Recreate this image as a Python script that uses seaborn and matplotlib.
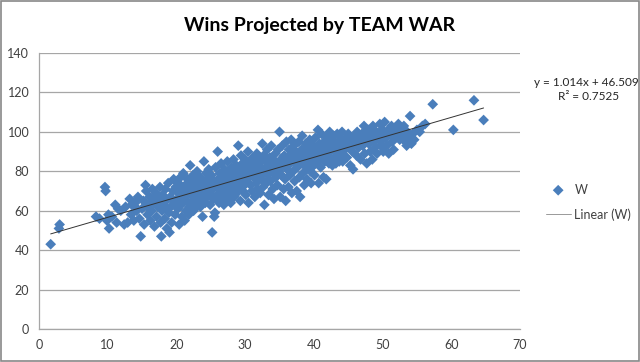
import matplotlib
matplotlib.use("Agg")
import matplotlib.pyplot as plt
import seaborn as sns
import numpy as np
import pandas as pd

# ---- data ----
war_a = [1.7, 2.9, 3.0, 8.3, 8.8, 9.6, 9.7, 9.9, 10.1, 10.2, 10.6, 11.1, 11.3, 11.5, 11.9]
wins_a = [43, 51, 53, 57, 56, 72, 70, 55, 58, 51, 57, 63, 54, 61, 60]

war_b = [12.4, 12.6, 12.9, 13.2, 13.4, 13.5, 13.8, 14.0, 14.2, 14.4, 14.6, 14.8, 15.0, 15.2, 15.3,
         15.5, 15.6, 15.8, 15.9, 16.1, 16.2, 16.4, 16.5, 16.7, 16.8, 17.0, 17.1, 17.3, 17.4, 17.6,
         17.7, 17.8, 17.9, 18.0, 18.1, 18.3, 18.4, 18.5, 18.6, 18.8, 18.9, 19.0, 19.1, 19.2, 19.3,
         19.5, 19.6, 19.7, 19.8, 19.9]
wins_b = [53, 62, 54, 66, 58, 63, 55, 64, 60, 67, 56, 47, 61, 65, 53,
          73, 70, 58, 63, 67, 55, 60, 71, 64, 52, 69, 57, 62, 66, 72,
          54, 47, 60, 68, 63, 56, 71, 65, 51, 74, 59, 49, 67, 62, 54,
          70, 76, 64, 58, 72]

war_c = [20.1, 20.2, 20.3, 20.4, 20.5, 20.6, 20.7, 20.8, 20.9, 21.0, 21.1, 21.2, 21.3, 21.4, 21.5,
         21.6, 21.7, 21.8, 21.9, 22.0, 22.1, 22.2, 22.3, 22.4, 22.5, 22.6, 22.7, 22.8, 22.9, 23.0,
         23.1, 23.2, 23.3, 23.4, 23.5, 23.6, 23.7, 23.8, 23.9, 24.0, 24.1, 24.2, 24.3, 24.4, 24.5,
         24.6, 24.7, 24.8, 24.9, 25.0, 25.1, 25.2, 25.3, 25.4, 25.5, 25.6, 25.7, 25.8, 25.9, 26.0,
         26.1, 26.2, 26.3, 26.4, 26.5, 26.6, 26.7, 26.8, 26.9, 27.0, 27.1, 27.2, 27.3, 27.4, 27.5,
         27.6, 27.7, 27.8, 27.9, 28.0]
wins_c = [66, 61, 74, 53, 69, 77, 63, 57, 71, 79, 67, 55, 73, 60, 65,
          76, 70, 58, 62, 83, 68, 74, 64, 78, 60, 71, 66, 75, 62, 80,
          69, 73, 65, 77, 62, 71, 67, 57, 75, 85, 70, 64, 79, 73, 67,
          76, 81, 69, 63, 74, 78, 49, 71, 66, 57, 59, 82, 73, 68, 90,
          76, 64, 79, 71, 84, 67, 74, 78, 63, 81, 70, 76, 66, 85, 73,
          79, 68, 75, 64, 82]

war_d = [28.1, 28.2, 28.3, 28.4, 28.5, 28.6, 28.7, 28.8, 28.9, 29.0, 29.1, 29.2, 29.3, 29.4, 29.5,
         29.6, 29.7, 29.8, 29.9, 30.0, 30.1, 30.2, 30.3, 30.4, 30.5, 30.6, 30.7, 30.8, 30.9, 31.0,
         31.1, 31.2, 31.3, 31.4, 31.5, 31.6, 31.7, 31.8, 31.9, 32.0, 32.1, 32.2, 32.3, 32.4, 32.5,
         32.6, 32.7, 32.8, 32.9, 33.0, 33.1, 33.2, 33.3, 33.4, 33.5, 33.6, 33.7, 33.8, 33.9, 34.0,
         34.1, 34.2, 34.3, 34.4, 34.5, 34.6, 34.7, 34.8, 34.9, 35.0, 35.1, 35.2, 35.3, 35.4, 35.5,
         35.6, 35.7, 35.8, 35.9, 36.0]
wins_d = [71, 77, 86, 67, 80, 74, 83, 69, 77, 93, 72, 81, 65, 88, 76,
          84, 70, 79, 73, 86, 68, 82, 76, 90, 64, 79, 85, 73, 81, 70,
          87, 77, 83, 67, 80, 74, 89, 71, 84, 78, 86, 69, 82, 76, 94,
          72, 88, 63, 80, 85, 74, 91, 78, 68, 83, 87, 75, 93, 80, 71,
          86, 66, 82, 89, 77, 84, 73, 91, 80, 100, 67, 86, 78, 93, 83,
          71, 88, 76, 65, 95]

war_e = [36.1, 36.2, 36.3, 36.4, 36.5, 36.6, 36.7, 36.8, 36.9, 37.0, 37.1, 37.2, 37.3, 37.4, 37.5,
         37.6, 37.7, 37.8, 37.9, 38.0, 38.1, 38.2, 38.3, 38.4, 38.5, 38.6, 38.7, 38.8, 38.9, 39.0,
         39.1, 39.2, 39.3, 39.4, 39.5, 39.6, 39.7, 39.8, 39.9, 40.0, 40.1, 40.2, 40.3, 40.4, 40.5,
         40.6, 40.7, 40.8, 40.9, 41.0, 41.1, 41.2, 41.3, 41.4, 41.5, 41.6, 41.7, 41.8, 41.9, 42.0,
         42.1, 42.2, 42.3, 42.4, 42.5, 42.6, 42.7, 42.8, 42.9, 43.0, 43.1, 43.2, 43.3, 43.4, 43.5,
         43.6, 43.7, 43.8, 43.9, 44.0]
wins_e = [81, 86, 72, 91, 78, 84, 96, 69, 88, 80, 93, 75, 85, 90, 70,
          82, 87, 95, 77, 67, 84, 91, 98, 79, 86, 73, 89, 94, 82, 76,
          88, 92, 84, 96, 80, 74, 90, 86, 93, 83, 78, 97, 88, 91, 85,
          101, 74, 94, 89, 82, 99, 87, 92, 77, 95, 85, 90, 76, 97, 88,
          93, 84, 100, 90, 86, 96, 83, 92, 98, 87, 94, 84, 90, 99, 88,
          95, 85, 92, 97, 89]

war_f = [44.1, 44.2, 44.4, 44.5, 44.7, 44.8, 45.0, 45.1, 45.3, 45.4, 45.6, 45.7, 45.9, 46.0, 46.2,
         46.3, 46.5, 46.6, 46.8, 47.0, 47.1, 47.3, 47.4, 47.6, 47.7, 47.9, 48.0, 48.2, 48.3, 48.5,
         48.6, 48.8, 48.9, 49.1, 49.2, 49.4, 49.6, 49.7, 49.9, 50.0, 50.1, 50.3, 50.4, 50.6, 50.8,
         50.9, 51.1, 51.3, 51.4, 51.6, 51.8, 51.9]
wins_f = [100, 85, 94, 91, 97, 87, 99, 93, 83, 96, 90, 81, 98, 94, 88,
          100, 92, 96, 86, 99, 93, 103, 89, 97, 84, 101, 94, 90, 98, 86,
          103, 95, 92, 100, 89, 97, 104, 93, 101, 96, 90, 105, 98, 93, 101,
          89, 99, 103, 95, 91, 102, 97]

war_g = [52.1, 52.3, 52.5, 52.7, 52.9, 53.1, 53.3, 53.5, 53.6, 53.8, 54.0, 54.2, 54.4, 54.6, 55.0,
         55.4, 55.8, 56.2, 57.3, 60.3, 63.3, 64.7]
wins_g = [100, 104, 96, 102, 98, 103, 95, 93, 100, 97, 108, 94, 99, 96, 101,
          100, 103, 104, 114, 101, 116, 106]

# dense core of the cloud, close to the trend line
war_h = [14.3, 15.7, 16.6, 17.5, 18.2, 18.7, 19.4, 20.0, 20.6, 21.2, 21.8, 22.3, 22.9, 23.4, 24.0,
         24.5, 25.0, 25.5, 26.0, 26.5, 27.0, 27.5, 28.0, 28.5, 29.0, 29.5, 30.0, 30.5, 31.0, 31.5,
         32.0, 32.5, 33.0, 33.5, 34.0, 34.5, 35.0, 35.5, 36.0, 36.5, 37.0, 37.5, 38.0, 38.5, 39.0,
         39.5, 40.0, 40.5, 41.0, 41.5, 42.0, 42.5, 43.0, 43.5, 44.0, 44.5, 45.0, 45.5, 46.0, 46.5,
         47.0, 47.5, 48.0, 48.5, 49.0, 49.5, 50.0, 50.5, 51.0, 51.5]
wins_h = [61, 62, 66, 64, 67, 61, 66, 70, 65, 69, 72, 68, 71, 70, 74,
          71, 71, 75, 72, 77, 74, 77, 76, 78, 75, 80, 78, 82, 79, 84,
          81, 79, 82, 86, 80, 84, 82, 87, 84, 88, 85, 89, 87, 91, 86,
          89, 92, 88, 91, 89, 94, 92, 91, 93, 95, 92, 96, 93, 97, 95,
          96, 99, 97, 100, 96, 99, 101, 97, 100, 99]

slope = 1.014
intercept = 46.509
r_squared = 0.7525

title = "Wins Projected by TEAM WAR"
x_ticks = [0, 10, 20, 30, 40, 50, 60, 70]
y_ticks = [0, 20, 40, 60, 80, 100, 120, 140]

# ---- build table ----
war = war_a + war_b + war_c + war_d + war_e + war_f + war_g + war_h
wins = wins_a + wins_b + wins_c + wins_d + wins_e + wins_f + wins_g + wins_h
df = pd.DataFrame({"WAR": war, "W": wins})

sns.set_style("white")
plt.rcParams["font.family"] = ["Lato", "DejaVu Sans"]

fig = plt.figure(figsize=(6.4, 3.62), dpi=100)
ax = fig.add_axes([39 / 640, 1 - 329 / 362, 481 / 640, 276 / 362])

sns.scatterplot(data=df, x="WAR", y="W", marker="D", s=30, color="#4A7EBB",
                edgecolor="none", linewidth=0, ax=ax, label="W", zorder=3)

xl = np.array([min(war), max(war)])
ax.plot(xl, slope * xl + intercept, color="#333333", lw=0.7, zorder=4,
        label="Linear (W)")

ax.set_xlim(0, 70)
ax.set_ylim(0, 140)
ax.set_xticks(x_ticks)
ax.set_yticks(y_ticks)
ax.set_xlabel("")
ax.set_ylabel("")
ax.yaxis.grid(True, color="#A6A6A6", lw=0.9)
ax.xaxis.grid(False)
ax.set_axisbelow(True)
for s in ["top", "right"]:
    ax.spines[s].set_visible(False)
for s in ["left", "bottom"]:
    ax.spines[s].set_color("#A6A6A6")
    ax.spines[s].set_linewidth(0.9)
ax.tick_params(axis="both", which="major", direction="out", length=4, width=0.9,
               color="#A6A6A6", labelsize=9, labelcolor="#404040", pad=3)

fig.text(0.5, 1 - 25 / 362, title, ha="center", va="center",
         fontsize=14, fontweight="bold", color="black")

fig.text(586 / 640, 1 - 83 / 362, f"y = {slope}x + {intercept}", ha="center",
         va="center", fontsize=8.5, color="#262626")
fig.text(589 / 640, 1 - 97 / 362, f"R² = {r_squared}", ha="center",
         va="center", fontsize=8.5, color="#262626")

h, l = ax.get_legend_handles_labels()
leg = ax.legend(h, l, loc="center left", bbox_to_anchor=(1.03, 0.46),
                frameon=False, fontsize=9, handlelength=2.0, handletextpad=0.3,
                labelspacing=1.0, labelcolor="#404040")
leg.legend_handles[1].set_color("#999999")

# outer frame
fig.patches.append(plt.Rectangle((0.0015, 0.0025), 0.997, 0.995, transform=fig.transFigure,
                                 fill=False, edgecolor="#888888", lw=1.2))

fig.savefig("out.png", dpi=100)
